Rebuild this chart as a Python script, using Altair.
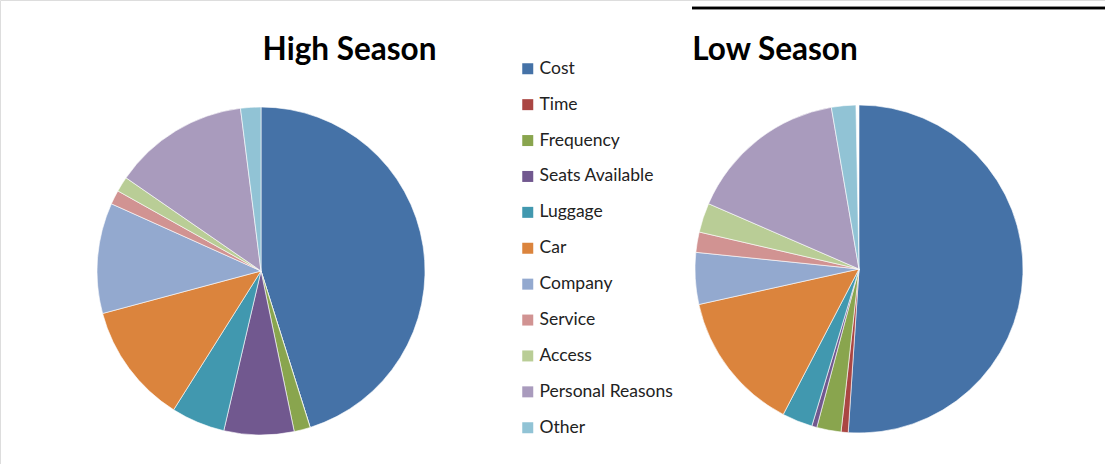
import altair as alt
import pandas as pd

reasons = ["Cost", "Time", "Frequency", "Seats Available", "Luggage", "Car",
           "Company", "Service", "Access", "Personal Reasons", "Other"]
high_season = [45.2, 0.0, 1.6, 6.9, 5.3, 11.9, 10.9, 1.4, 1.5, 13.4, 2.0]
low_season = [51.1, 0.7, 2.4, 0.5, 3.0, 13.9, 5.1, 2.0, 2.9, 15.8, 2.4]
colors = ["#4572A7", "#AA4643", "#89A54E", "#71588F", "#4198AF", "#DB843D",
          "#93A9CF", "#D19392", "#B9CD96", "#A99BBD", "#91C3D5"]
titles = ["High Season", "Low Season"]

rows = []
for i, r in enumerate(reasons):
    rows.append({"season": titles[0], "reason": r, "idx": i, "value": high_season[i]})
    rows.append({"season": titles[1], "reason": r, "idx": i, "value": low_season[i]})
df = pd.DataFrame(rows)

FONT = "Lato"

color = alt.Color(
    "reason:N",
    scale=alt.Scale(domain=reasons, range=colors),
    legend=alt.Legend(
        title=None, orient="none", legendX=519, legendY=60,
        symbolType="square", symbolSize=121, symbolStrokeWidth=0,
        labelFontSize=17.5, labelFont=FONT, labelColor="#222222",
        rowPadding=16.9, labelOffset=3, labelLimit=300,
    ),
)

def pie(season, cx, cy):
    return alt.Chart(df).transform_filter(
        alt.datum.season == season
    ).mark_arc(radius=164, stroke="white", strokeWidth=0.6).encode(
        theta=alt.Theta("value:Q", stack=True),
        color=color,
        order=alt.Order("idx:Q"),
        x=alt.value(cx),
        y=alt.value(cy),
    )

high = pie(titles[0], 261, 271)
low = pie(titles[1], 859, 269)

tdf = pd.DataFrame({"t": titles})
t_high = alt.Chart(tdf).transform_filter(alt.datum.t == titles[0]).mark_text(
    font=FONT, fontSize=31.5, fontWeight="bold", color="black", align="center", baseline="alphabetic"
).encode(text="t:N", x=alt.value(349.5), y=alt.value(60))
t_low = alt.Chart(tdf).transform_filter(alt.datum.t == titles[1]).mark_text(
    font=FONT, fontSize=31.5, fontWeight="bold", color="black", align="center", baseline="alphabetic"
).encode(text="t:N", x=alt.value(775), y=alt.value(60))

line = alt.Chart(tdf).mark_rule(color="black", strokeWidth=2.5).encode(
    x=alt.value(692), x2=alt.value(1105), y=alt.value(8)
)

chart = alt.layer(high, low, t_high, t_low, line).properties(
    width=1105, height=464, padding=0, autosize=alt.AutoSizeParams(type="none")
).configure_view(stroke=None).configure(background="white")

chart.save("out.html", embed_options={"renderer": "svg", "actions": False})
